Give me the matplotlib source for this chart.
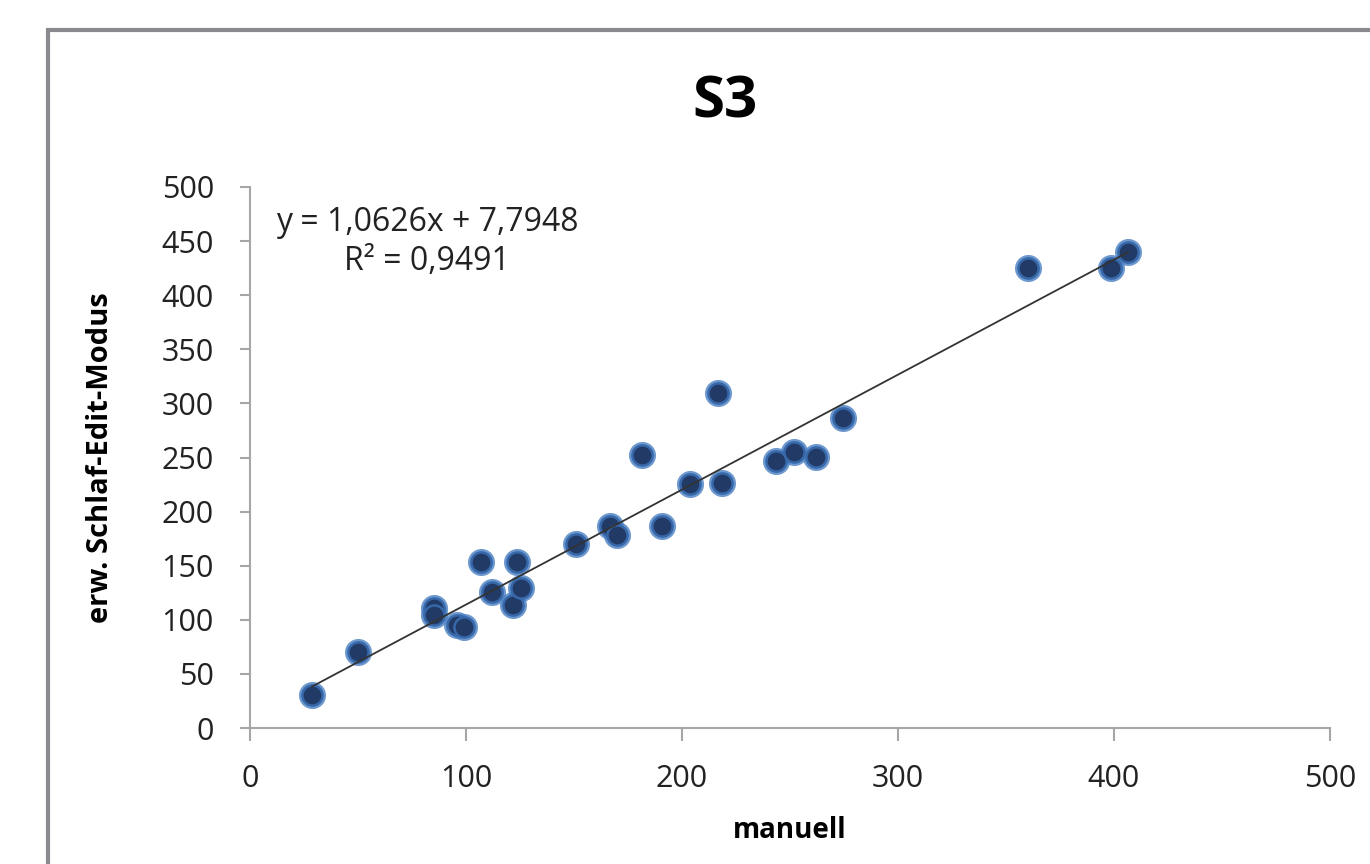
import numpy as np
import matplotlib
matplotlib.use('Agg')
import matplotlib.pyplot as plt
from matplotlib.patches import Rectangle

plt.rcParams['font.family'] = ['Open Sans', 'DejaVu Sans']

# werte
manuell = [28.7, 50, 85, 85, 96, 99, 107, 112, 121.8, 123.6, 125.5, 151, 166.7, 170,
           181.5, 190.7, 203.7, 216.7, 218.5, 243.5, 252, 262, 274.5, 360, 398.6, 406.5]
schlaf = [30.5, 70, 111, 104, 95, 93, 153, 126, 114, 153, 129, 170, 187, 178,
          252, 187, 225.5, 310, 226, 247, 255, 250.5, 286.5, 425, 425, 440]
slope, intercept, r2 = 1.0626, 7.7948, 0.9491
ticks = [0, 100, 200, 300, 400, 500]
yticks = [0, 50, 100, 150, 200, 250, 300, 350, 400, 450, 500]

fig = plt.figure(figsize=(13.7, 8.64), dpi=100)
ax = fig.add_axes([250 / 1370, 1 - 728 / 864, 1080 / 1370, 541 / 864])

# rahmen ums diagramm
frame = Rectangle((48 / 1370, -0.1), 1.2, 1 - 30 / 864 + 0.1, transform=fig.transFigure,
                  fill=False, edgecolor='#8a8a8e', linewidth=3, zorder=0)
fig.add_artist(frame)

# punkte mit weichem rand
ax.scatter(manuell, schlaf, s=380, color='#4a80c4', alpha=0.8, linewidth=0, zorder=3)
ax.scatter(manuell, schlaf, s=210, facecolor='#213a66', edgecolor='#3768aa',
           linewidth=1.8, zorder=3)
xl = np.array([min(manuell), max(manuell)])
ax.plot(xl, slope * xl + intercept, color='#333333', linewidth=1.3, zorder=4)

ax.set_xlim(0, 500)
ax.set_ylim(0, 500)
ax.set_xticks(ticks)
ax.set_yticks(yticks)
for s in ['top', 'right']:
    ax.spines[s].set_visible(False)
for s in ['left', 'bottom']:
    ax.spines[s].set_color('#a6a6a6')
    ax.spines[s].set_linewidth(1.5)
ax.tick_params(colors='#a6a6a6', labelcolor='#222222', labelsize=22, width=1.5)
ax.tick_params(axis='y', length=7, pad=19)
ax.tick_params(axis='x', length=9, pad=17)

ax.set_xlabel('manuell', fontsize=20, fontweight='bold')
ax.set_ylabel('erw. Schlaf-Edit-Modus', fontsize=21, fontweight='bold')
ax.xaxis.set_label_coords(0.5, -0.162)
ax.yaxis.set_label_coords(-0.125, 0.5)
fig.text(725 / 1370, 1 - 102 / 864, 'S3', fontsize=42, fontweight='bold',
         ha='center', va='center')

txt = 'y = ' + f'{slope}'.replace('.', ',') + 'x + ' + f'{intercept}'.replace('.', ',') \
      + '\nR² = ' + f'{r2}'.replace('.', ',')
ax.text(82, 449, txt, fontsize=23, ha='center', va='center', multialignment='center',
        color='#222222', linespacing=1.25)

fig.savefig('out.png', dpi=100)
